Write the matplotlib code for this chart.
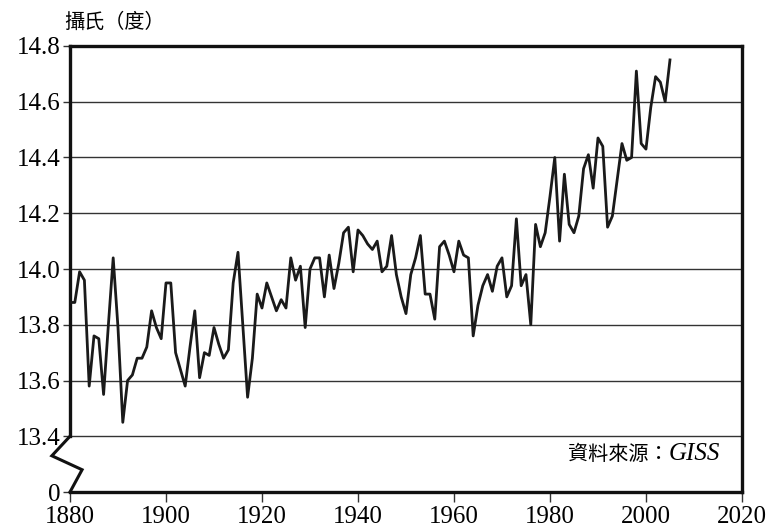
# Global mean surface temperature, GISS (degrees C)
import numpy as np
import matplotlib
matplotlib.use('Agg')
import matplotlib.pyplot as plt
import matplotlib.transforms as mtransforms

years = np.arange(1880, 2006)
temps = [13.88, 13.88, 13.99, 13.96, 13.58, 13.76, 13.75, 13.55, 13.80, 14.04,
         13.79, 13.45, 13.60, 13.62, 13.68, 13.68, 13.72, 13.85, 13.79, 13.75,
         13.95, 13.95, 13.70, 13.64, 13.58, 13.72, 13.85, 13.61, 13.70, 13.69,
         13.79, 13.73, 13.68, 13.71, 13.95, 14.06, 13.80, 13.54, 13.68, 13.91,
         13.86, 13.95, 13.90, 13.85, 13.89, 13.86, 14.04, 13.96, 14.01, 13.79,
         14.00, 14.04, 14.04, 13.90, 14.05, 13.93, 14.02, 14.13, 14.15, 13.99,
         14.14, 14.12, 14.09, 14.07, 14.10, 13.99, 14.01, 14.12, 13.98, 13.90,
         13.84, 13.98, 14.04, 14.12, 13.91, 13.91, 13.82, 14.08, 14.10, 14.05,
         13.99, 14.10, 14.05, 14.04, 13.76, 13.87, 13.94, 13.98, 13.92, 14.01,
         14.04, 13.90, 13.94, 14.18, 13.94, 13.98, 13.80, 14.16, 14.08, 14.13,
         14.26, 14.40, 14.10, 14.34, 14.16, 14.13, 14.19, 14.36, 14.41, 14.29,
         14.47, 14.44, 14.15, 14.19, 14.32, 14.45, 14.39, 14.40, 14.71, 14.45,
         14.43, 14.58, 14.69, 14.67, 14.60, 14.75]

ytick_values = [13.2, 13.4, 13.6, 13.8, 14.0, 14.2, 14.4, 14.6, 14.8]
ytick_labels = ['0', '13.4', '13.6', '13.8', '14.0', '14.2', '14.4', '14.6', '14.8']
xtick_values = np.arange(1880, 2021, 20)

num_font = 'Liberation Serif'
cjk_font = 'Noto Sans CJK TC'

fig = plt.figure(figsize=(7.7, 5.31), dpi=100)
ax = fig.add_axes([0.0909, 0.0734, 0.8727, 0.84])

# grid lines (not on the break part)
for v in ytick_values[1:-1]:
    ax.axhline(v, color='#333333', lw=1.0, zorder=1)

ax.plot(years, temps, color='#1a1a1a', lw=2.0, zorder=3)

ax.set_xlim(1880, 2020)
ax.set_ylim(13.2, 14.8)
ax.set_xticks(xtick_values)
ax.set_xticklabels([str(x) for x in xtick_values], fontsize=18, family=num_font)
ax.set_yticks(ytick_values)
ax.set_yticklabels(ytick_labels, fontsize=18, family=num_font)
ax.tick_params(axis='y', length=5, width=1, color='#333333', pad=2)
ax.tick_params(axis='x', length=7, width=1, color='#333333', pad=3)

for side in ['top', 'bottom', 'left', 'right']:
    ax.spines[side].set_linewidth(2.4)
    ax.spines[side].set_color('#111111')
ax.spines['left'].set_bounds(13.4, 14.8)

# axis break zigzag on the left
trans = mtransforms.blended_transform_factory(ax.transAxes, ax.transData)
ax.plot([0, -0.027, 0.018, 0], [13.4, 13.33, 13.28, 13.2], color='#111111',
        lw=2.2, transform=trans, clip_on=False, zorder=4, solid_joinstyle='miter')

fig.text(0.083, 0.958, '攝氏（度）', family=cjk_font, fontsize=14.5, va='center', ha='left')

giss = ax.text(0.968, 0.085, 'GISS', transform=ax.transAxes, family=num_font,
               style='italic', fontsize=18, ha='right', va='center')
ax.annotate('資料來源：', xy=(0, 0.5), xycoords=giss, ha='right', va='center',
            family=cjk_font, fontsize=14.5)

fig.savefig('out.png', dpi=100)
